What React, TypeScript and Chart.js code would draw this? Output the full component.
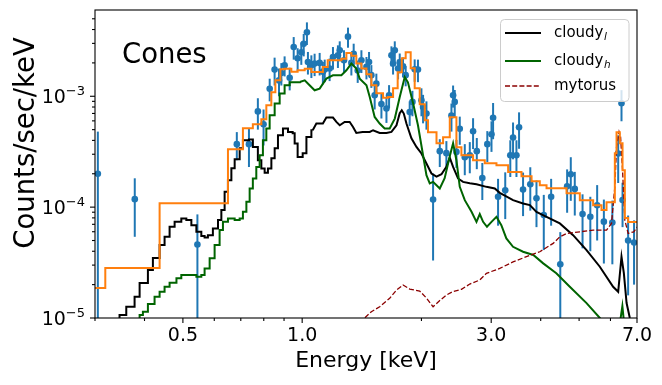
import React, { useEffect, useRef } from "react";
import { Chart, registerables } from "chart.js";

Chart.register(...registerables);

// ---------------- data ----------------
// observed spectrum: energy [keV], counts/sec/keV, 1-sigma error
const dataE = [0.305, 0.378, 0.544, 0.684, 0.734, 0.773, 0.799, 0.828, 0.852, 0.874,
  0.886, 0.903, 0.930, 0.952, 0.974, 0.995, 1.009, 1.028, 1.034, 1.055,
  1.075, 1.107, 1.128, 1.140, 1.173, 1.196, 1.231, 1.244, 1.275, 1.305,
  1.331, 1.349, 1.381, 1.411, 1.453, 1.475, 1.495, 1.524, 1.539, 1.585,
  1.632, 1.657, 1.680, 1.696, 1.713, 1.746, 1.763, 1.797, 1.825, 1.868,
  1.898, 1.923, 1.960, 2.000, 2.019, 2.059, 2.140, 2.225, 2.312, 2.381,
  2.404, 2.427, 2.451, 2.499, 2.573, 2.649, 2.700, 2.759, 2.849, 2.933,
  3.005, 3.033, 3.122, 3.255, 3.352, 3.406, 3.474, 3.527, 3.610, 3.765,
  3.903, 4.072, 4.250, 4.482, 4.664, 4.764, 4.876, 5.101, 5.337, 5.553,
  5.774, 6.066, 6.275, 6.397, 6.436, 6.648, 6.881];
const dataV = [2.0e-4, 1.18e-4, 4.6e-5, 3.7e-4, 3.7e-4, 7.3e-4, 5.6e-4, 1.17e-3, 1.74e-3, 1.39e-3,
  1.62e-3, 1.90e-3, 1.47e-3, 2.78e-3, 2.20e-3, 2.49e-3, 2.97e-3, 3.77e-3, 2.04e-3, 1.90e-3,
  1.97e-3, 2.00e-3, 1.66e-3, 1.74e-3, 1.78e-3, 2.26e-3, 2.34e-3, 2.60e-3, 2.11e-3, 3.45e-3,
  2.00e-3, 2.42e-3, 1.71e-3, 2.11e-3, 1.84e-3, 2.04e-3, 1.55e-3, 1.02e-3, 1.30e-3, 8.5e-4,
  7.75e-4, 1.02e-3, 2.34e-3, 1.97e-3, 2.60e-3, 1.78e-3, 2.02e-3, 1.86e-3, 1.55e-3, 7.2e-4,
  8.9e-4, 1.75e-3, 1.74e-3, 9.2e-4, 8.0e-4, 7.0e-4, 1.17e-4, 3.2e-4, 3.07e-4, 6.7e-4,
  1.02e-3, 8.9e-4, 3.15e-4, 5.1e-4, 2.82e-4, 2.94e-4, 4.84e-4, 3.2e-4, 1.83e-4, 3.7e-4,
  4.55e-4, 6.4e-4, 1.24e-4, 1.42e-4, 2.94e-4, 4.25e-4, 2.94e-4, 5.26e-4, 1.44e-4, 1.61e-4,
  1.20e-4, 8.5e-5, 1.24e-4, 3.05e-5, 1.54e-4, 1.98e-4, 1.46e-4, 8.65e-5, 8.2e-5, 1.04e-4,
  7.4e-5, 7.25e-5, 3.05e-4, 8.65e-4, 1.16e-4, 5.0e-5, 4.8e-5];
const dataErr = [2.8e-4, 6.4e-5, 4.0e-5, 1.05e-4, 1.4e-4, 2.3e-4, 2.0e-4, 2.7e-4, 4.9e-4, 3.9e-4,
  3.7e-4, 3.9e-4, 3.4e-4, 6.4e-4, 5.1e-4, 5.7e-4, 6.8e-4, 8.7e-4, 4.7e-4, 4.4e-4,
  4.5e-4, 4.6e-4, 3.8e-4, 4.0e-4, 4.1e-4, 5.2e-4, 5.4e-4, 5.3e-4, 4.9e-4, 7.1e-4,
  4.6e-4, 5.6e-4, 3.9e-4, 4.9e-4, 4.2e-4, 4.7e-4, 3.6e-4, 2.6e-4, 3.0e-4, 2.2e-4,
  2.0e-4, 2.4e-4, 4.8e-4, 4.0e-4, 5.3e-4, 3.6e-4, 4.1e-4, 3.8e-4, 3.2e-4, 1.8e-4,
  2.3e-4, 4.0e-4, 4.0e-4, 2.6e-4, 2.3e-4, 2.0e-4, 8.4e-5, 9.0e-5, 8.7e-5, 1.9e-4,
  2.3e-4, 2.5e-4, 8.9e-5, 1.45e-4, 8.8e-5, 9.2e-5, 1.5e-4, 1.0e-4, 6.7e-5, 1.15e-4,
  1.4e-4, 2.3e-4, 5.6e-5, 6.4e-5, 1.07e-4, 1.55e-4, 1.07e-4, 1.9e-4, 6.1e-5, 6.8e-5,
  5.4e-5, 4.4e-5, 5.6e-5, 2.9e-5, 6.5e-5, 8.4e-5, 6.2e-5, 4.4e-5, 4.2e-5, 5.4e-5,
  4.3e-5, 4.2e-5, 1.4e-4, 2.7e-4, 5.0e-5, 3.4e-5, 2.8e-5];

// total folded model (histogram: bin left edges, last entry closes the final bin)
const foldE = [0.300, 0.3185, 0.4367, 0.6497, 0.7087, 0.7508, 0.7888, 0.812, 0.836, 0.8557,
  0.881, 0.903, 0.939, 0.974, 1.015, 1.055, 1.128, 1.160, 1.256, 1.293,
  1.331, 1.370, 1.411, 1.453, 1.495, 1.539, 1.600, 1.647, 1.696, 1.742,
  1.784, 1.825, 1.879, 1.923, 1.980, 2.039, 2.078, 2.183, 2.268, 2.358,
  2.451, 2.523, 2.700, 2.890, 3.093, 3.310, 3.577, 3.793, 3.979, 4.138,
  4.648, 5.021, 5.425, 5.695, 5.864, 6.154, 6.215, 6.335, 6.436, 6.522,
  6.648, 7.0];
const foldV = [1.86e-5, 2.82e-5, 1.086e-4, 3.33e-4, 5.15e-4, 5.59e-4, 6.21e-4, 8.30e-4, 1.086e-3, 1.393e-3,
  1.750e-3, 1.769e-3, 1.662e-3, 1.714e-3, 1.769e-3, 1.656e-3, 1.837e-3, 2.110e-3, 2.185e-3, 2.456e-3,
  2.317e-3, 1.970e-3, 1.776e-3, 1.578e-3, 1.256e-3, 1.064e-3, 9.69e-4, 9.86e-4, 1.181e-3, 1.645e-3,
  2.199e-3, 2.490e-3, 1.788e-3, 1.181e-3, 8.47e-4, 6.08e-4, 4.74e-4, 3.77e-4, 4.27e-4, 6.47e-4,
  3.47e-4, 2.94e-4, 2.65e-4, 2.49e-4, 2.39e-4, 2.07e-4, 1.90e-4, 1.714e-4, 1.578e-4, 1.483e-4,
  1.337e-4, 1.156e-4, 1.042e-4, 9.40e-5, 1.109e-4, 3.065e-4, 4.74e-4, 3.77e-4, 2.155e-4, 7.96e-5,
  7.33e-5, 7.33e-5];

// cloudy_l: coarse-binned low-energy part (histogram) + fine part
const cloudyLStepE = [0.33, 0.346, 0.3598, 0.3776, 0.3888, 0.408, 0.42, 0.4367, 0.4495, 0.4628,
  0.4765, 0.4954, 0.5101, 0.5252, 0.5407, 0.5565, 0.5672, 0.5782, 0.5952, 0.6131,
  0.6252, 0.6372, 0.6496, 0.6627, 0.6755, 0.6954, 0.7087, 0.734, 0.7509, 0.773,
  0.7888, 0.8041, 0.8196, 0.8361, 0.8523, 0.8688, 0.8944, 0.921, 0.9463, 0.9573,
  0.974, 1.003, 1.025, 1.055, 1.063];
const cloudyLStepV = [8e-6, 1.064e-5, 1.264e-5, 1.555e-5, 2.067e-5, 2.706e-5, 3.47e-5, 4.55e-5, 5.40e-5, 6.65e-5,
  7.37e-5, 7.91e-5, 7.64e-5, 6.88e-5, 5.99e-5, 5.48e-5, 5.33e-5, 5.59e-5, 6.43e-5, 7.64e-5,
  9.40e-5, 1.373e-4, 1.750e-4, 2.245e-4, 2.706e-4, 3.40e-4, 4.015e-4, 4.07e-4, 3.49e-4, 2.65e-4,
  2.23e-4, 2.04e-4, 2.23e-4, 2.76e-4, 3.40e-4, 4.45e-4, 5.12e-4, 4.77e-4, 4.64e-4, 3.75e-4,
  2.84e-4, 3.065e-4, 4.30e-4, 4.94e-4, 4.94e-4];
const cloudyLE = [1.063, 1.086, 1.128, 1.151, 1.196, 1.220, 1.244, 1.280, 1.318, 1.344,
  1.370, 1.421, 1.481, 1.510, 1.569, 1.632, 1.680, 1.730, 1.763, 1.784,
  1.805, 1.833, 1.887, 1.943, 2.0, 2.059, 2.120, 2.183, 2.247, 2.312,
  2.358, 2.404, 2.474, 2.547, 2.649, 2.754, 2.918, 3.063, 3.153, 3.265,
  3.406, 3.610, 3.755, 3.903, 4.138, 4.470, 4.829, 5.221, 5.640, 6.093,
  6.275, 6.397, 6.485, 6.589, 6.714, 6.832];
const cloudyLV = [4.94e-4, 5.68e-4, 5.68e-4, 6.43e-4, 6.43e-4, 5.87e-4, 5.48e-4, 5.87e-4, 5.87e-4, 5.29e-4,
  4.67e-4, 4.77e-4, 4.77e-4, 4.94e-4, 4.67e-4, 4.67e-4, 4.77e-4, 5.48e-4, 7.03e-4, 7.48e-4,
  6.98e-4, 5.68e-4, 4.18e-4, 3.49e-4, 3.046e-4, 2.475e-4, 2.011e-4, 1.883e-4, 1.982e-4, 2.307e-4,
  2.79e-4, 2.307e-4, 1.814e-4, 1.690e-4, 1.645e-4, 1.611e-4, 1.524e-4, 1.474e-4, 1.345e-4, 1.256e-4,
  1.156e-4, 1.08e-4, 1.042e-4, 9.07e-5, 8.18e-5, 7.13e-5, 5.59e-5, 4.10e-5, 2.90e-5, 1.914e-5,
  1.726e-5, 3.57e-5, 2.54e-5, 1.365e-5, 1.0e-5, 8e-6];

// cloudy_h
const cloudyHStepE = [0.38, 0.3888, 0.3963, 0.408, 0.4241, 0.4367, 0.4495, 0.4628, 0.4816, 0.4954,
  0.5407, 0.5565, 0.5672, 0.5841, 0.6012, 0.6189, 0.631, 0.6497, 0.6755, 0.6954,
  0.7087, 0.7231, 0.737, 0.7508, 0.766, 0.781, 0.796, 0.812, 0.8278, 0.8523,
  0.8774, 0.903, 0.930, 0.986];
const cloudyHStepV = [8e-6, 1.064e-5, 1.14e-5, 1.337e-5, 1.555e-5, 1.726e-5, 1.914e-5, 2.08e-5, 2.28e-5, 2.44e-5,
  2.355e-5, 2.44e-5, 2.80e-5, 3.45e-5, 4.55e-5, 6.21e-5, 7.37e-5, 7.91e-5, 7.64e-5, 7.91e-5,
  9.07e-5, 1.116e-4, 1.474e-4, 1.814e-4, 2.307e-4, 2.94e-4, 4.02e-4, 5.12e-4, 6.74e-4, 8.59e-4,
  1.057e-3, 1.256e-3, 1.337e-3, 1.345e-3];
const cloudyHE = [0.986, 1.015, 1.044, 1.075, 1.107, 1.151, 1.196, 1.256, 1.293, 1.331,
  1.370, 1.397, 1.453, 1.481, 1.524, 1.569, 1.615, 1.663, 1.713, 1.763,
  1.815, 1.849, 1.906, 1.960, 2.019, 2.059, 2.099, 2.140, 2.183, 2.225,
  2.289, 2.358, 2.404, 2.451, 2.499, 2.573, 2.676, 2.754, 2.807, 2.862,
  2.927, 3.005, 3.093, 3.182, 3.276, 3.406, 3.610, 3.832, 4.059, 4.380,
  4.737, 5.221, 5.640, 5.977, 6.30, 6.43, 6.52];
const cloudyHV = [1.345e-3, 1.393e-3, 1.256e-3, 1.132e-3, 1.173e-3, 1.443e-3, 1.546e-3, 1.546e-3, 1.714e-3, 1.970e-3,
  1.776e-3, 1.443e-3, 1.256e-3, 9.86e-4, 6.51e-4, 5.68e-4, 5.12e-4, 5.12e-4, 6.29e-4, 9.86e-4,
  1.492e-3, 1.337e-3, 8.59e-4, 5.48e-4, 2.94e-4, 1.942e-4, 1.635e-4, 1.690e-4, 1.578e-4, 1.474e-4,
  1.825e-4, 2.88e-4, 3.77e-4, 2.65e-4, 1.524e-4, 1.156e-4, 9.07e-5, 7.37e-5, 8.65e-5, 7.37e-5,
  6.65e-5, 7.37e-5, 8.18e-5, 6.88e-5, 5.22e-5, 4.39e-5, 3.96e-5, 3.70e-5, 3.11e-5, 2.53e-5,
  1.914e-5, 1.362e-5, 1.0e-5, 7.8e-6, 7.8e-6, 1.28e-5, 7.8e-6];

// mytorus
const mytorusE = [1.40, 1.438, 1.495, 1.569, 1.663, 1.730, 1.797, 1.868, 1.980, 2.059,
  2.140, 2.225, 2.312, 2.404, 2.523, 2.649, 2.807, 2.918, 3.153, 3.406,
  3.681, 3.979, 4.300, 4.470, 4.648, 5.021, 5.425, 5.864, 6.036, 6.154,
  6.215, 6.307, 6.363, 6.436, 6.522, 6.648, 6.868, 7.1];
const mytorusV = [9e-6, 1.0e-5, 1.14e-5, 1.264e-5, 1.505e-5, 1.789e-5, 1.982e-5, 1.825e-5, 1.750e-5, 1.514e-5,
  1.264e-5, 1.438e-5, 1.611e-5, 1.733e-5, 1.814e-5, 2.024e-5, 2.20e-5, 2.53e-5, 2.80e-5, 3.21e-5,
  3.57e-5, 3.96e-5, 4.71e-5, 5.40e-5, 5.79e-5, 5.99e-5, 6.21e-5, 6.21e-5, 7.13e-5, 1.524e-4,
  3.49e-4, 4.77e-4, 4.30e-4, 2.155e-4, 7.64e-5, 5.79e-5, 5.99e-5, 6.99e-5];

// axes
const xMajorTicks = [0.5, 1.0, 3.0, 7.0];
const xMajorLabels = ["0.5", "1.0", "3.0", "7.0"];
const xMinorTicks = [0.3, 0.4, 0.6, 0.7, 0.8, 0.9, 2, 4, 5, 6];
const yMajorTicks = [1e-5, 1e-4, 1e-3];
const yMajorExponents = ["\u22125", "\u22124", "\u22123"];
const yMinorTicks = [2e-5, 3e-5, 4e-5, 5e-5, 6e-5, 7e-5, 8e-5, 9e-5,
  2e-4, 3e-4, 4e-4, 5e-4, 6e-4, 7e-4, 8e-4, 9e-4, 2e-3, 3e-3, 4e-3, 5e-3];
const xTitle = "Energy [keV]";
const yTitle = "Counts/sec/keV";
const panelLabel = "Cones";
const legendNames = ["cloudy", "cloudy", "mytorus"];
const legendSubs = ["l", "h", ""];
const legendColors = ["#000000", "#006400", "#8b0000"];
const legendDashed = [false, false, true];

const FONT = '"DejaVu Sans", Verdana, sans-serif';
const BLUE = "#1f77b4";

function toPoints(xs: number[], ys: number[]) {
  return xs.map((x, i) => ({ x, y: ys[i] }));
}

const errorBarPlugin = {
  id: "errorBars",
  beforeDatasetsDraw(chart: any) {
    const { ctx, chartArea: a, scales } = chart;
    const xs = scales.x;
    const ys = scales.y;
    ctx.save();
    ctx.beginPath();
    ctx.rect(a.left, a.top, a.right - a.left, a.bottom - a.top);
    ctx.clip();
    ctx.strokeStyle = BLUE;
    ctx.lineWidth = 2;
    dataE.forEach((e, i) => {
      const v = dataV[i];
      const er = dataErr[i];
      const px = xs.getPixelForValue(e);
      const top = ys.getPixelForValue(v + er);
      const bot = v - er > 0 ? ys.getPixelForValue(v - er) : a.bottom + 5;
      ctx.beginPath();
      ctx.moveTo(px, top);
      ctx.lineTo(px, bot);
      ctx.stroke();
    });
    ctx.restore();
  },
};

const decorPlugin = {
  id: "decor",
  afterDraw(chart: any) {
    const { ctx, chartArea: a, scales } = chart;
    const xs = scales.x;
    const ys = scales.y;
    ctx.save();
    ctx.strokeStyle = "#000";
    ctx.fillStyle = "#000";
    ctx.lineWidth = 1.1;
    ctx.strokeRect(a.left, a.top, a.right - a.left, a.bottom - a.top);

    const seg = (x1: number, y1: number, x2: number, y2: number) => {
      ctx.beginPath();
      ctx.moveTo(x1, y1);
      ctx.lineTo(x2, y2);
      ctx.stroke();
    };
    // x ticks
    xMajorTicks.forEach((v) => {
      const p = xs.getPixelForValue(v);
      seg(p, a.bottom, p, a.bottom + 5);
    });
    xMinorTicks.forEach((v) => {
      const p = xs.getPixelForValue(v);
      seg(p, a.bottom, p, a.bottom + 3);
    });
    yMajorTicks.forEach((v) => {
      const p = ys.getPixelForValue(v);
      seg(a.left, p, a.left - 5, p);
    });
    yMinorTicks.forEach((v) => {
      const p = ys.getPixelForValue(v);
      seg(a.left, p, a.left - 3, p);
    });

    // x tick labels
    ctx.font = `19px ${FONT}`;
    ctx.textAlign = "center";
    ctx.textBaseline = "top";
    xMajorTicks.forEach((v, i) => {
      ctx.fillText(xMajorLabels[i], xs.getPixelForValue(v), a.bottom + 9);
    });
    // y tick labels 10^n
    ctx.textBaseline = "alphabetic";
    ctx.textAlign = "left";
    yMajorTicks.forEach((v, i) => {
      const p = ys.getPixelForValue(v);
      ctx.font = `13px ${FONT}`;
      const wSup = ctx.measureText(yMajorExponents[i]).width;
      ctx.font = `19px ${FONT}`;
      const wBase = ctx.measureText("10").width;
      const right = a.left - 10;
      ctx.fillText("10", right - wSup - wBase, p + 7);
      ctx.font = `13px ${FONT}`;
      ctx.fillText(yMajorExponents[i], right - wSup, p - 1);
    });

    // axis titles
    ctx.font = `22px ${FONT}`;
    ctx.textAlign = "center";
    ctx.textBaseline = "middle";
    ctx.fillText(xTitle, (a.left + a.right) / 2, 361);
    ctx.save();
    ctx.font = `27.5px ${FONT}`;
    ctx.translate(27, 143);
    ctx.rotate(-Math.PI / 2);
    ctx.fillText(yTitle, 0, 0);
    ctx.restore();

    // panel label
    ctx.font = `27.5px ${FONT}`;
    ctx.textAlign = "left";
    ctx.textBaseline = "alphabetic";
    ctx.fillText(panelLabel, 122, 63);

    // legend
    const lx = 500.5, ly = 19.5, lw = 128.5, lh = 82;
    ctx.beginPath();
    ctx.roundRect(lx, ly, lw, lh, 4);
    ctx.fillStyle = "rgba(255,255,255,0.8)";
    ctx.fill();
    ctx.strokeStyle = "#cccccc";
    ctx.lineWidth = 1;
    ctx.stroke();
    const rows = [33, 61, 86];
    legendNames.forEach((name, i) => {
      const y = rows[i];
      ctx.strokeStyle = legendColors[i];
      ctx.lineWidth = legendDashed[i] ? 1.4 : 2;
      ctx.setLineDash(legendDashed[i] ? [5, 2.2] : []);
      seg(505, y, 541, y);
      ctx.setLineDash([]);
      ctx.fillStyle = "#000";
      ctx.font = `15px ${FONT}`;
      ctx.textBaseline = "middle";
      ctx.textAlign = "left";
      ctx.fillText(name, 554, y);
      if (legendSubs[i]) {
        const w = ctx.measureText(name).width;
        ctx.font = `italic 10.5px ${FONT}`;
        ctx.fillText(legendSubs[i], 554 + w + 0.5, y + 4);
      }
    });
    ctx.restore();
  },
};

export default function App() {
  const ref = useRef<HTMLCanvasElement | null>(null);

  useEffect(() => {
    document.body.style.margin = "0";
    const canvas = ref.current;
    if (!canvas) return;
    const line = (extra: any) => ({
      type: "line",
      pointRadius: 0,
      tension: 0,
      fill: false,
      borderWidth: 2,
      ...extra,
    });
    const chart = new Chart(canvas, {
      type: "line",
      data: {
        datasets: [
          line({ label: "model", data: toPoints(foldE, foldV), borderColor: "#ff7f0e", stepped: "before", order: 1 }),
          line({ label: "mytorus", data: toPoints(mytorusE, mytorusV), borderColor: "#8b0000", borderWidth: 1.3, borderDash: [5, 2.2], order: 2 }),
          line({ label: "cloudy_h", data: toPoints(cloudyHE, cloudyHV), borderColor: "#006400", order: 3 }),
          line({ label: "cloudy_h (coarse)", data: toPoints(cloudyHStepE, cloudyHStepV), borderColor: "#006400", stepped: "before", order: 3 }),
          line({ label: "cloudy_l", data: toPoints(cloudyLE, cloudyLV), borderColor: "#000000", order: 4 }),
          line({ label: "cloudy_l (coarse)", data: toPoints(cloudyLStepE, cloudyLStepV), borderColor: "#000000", stepped: "before", order: 4 }),
          {
            type: "scatter",
            label: "data",
            data: toPoints(dataE, dataV),
            backgroundColor: BLUE,
            borderColor: BLUE,
            pointRadius: 3.3,
            pointBorderWidth: 0,
            showLine: false,
            order: 10,
          },
        ] as any,
      },
      options: {
        responsive: false,
        animation: false,
        devicePixelRatio: 1,
        events: [],
        layout: { padding: { left: 0, right: 25, top: 10, bottom: 0 } },
        plugins: { legend: { display: false }, tooltip: { enabled: false } },
        scales: {
          x: {
            type: "logarithmic",
            min: 0.3,
            max: 7.0,
            grid: { display: false },
            border: { display: false },
            ticks: { display: false },
            afterFit: (s: any) => {
              s.height = 67;
            },
          },
          y: {
            type: "logarithmic",
            min: 1e-5,
            max: 6e-3,
            grid: { display: false },
            border: { display: false },
            ticks: { display: false },
            afterFit: (s: any) => {
              s.width = 95;
            },
          },
        },
      } as any,
      plugins: [errorBarPlugin, decorPlugin],
    });
    return () => chart.destroy();
  }, []);

  return (
    <div style={{ width: 662, height: 385 }}>
      <canvas ref={ref} width={662} height={385} style={{ display: "block" }} />
    </div>
  );
}
